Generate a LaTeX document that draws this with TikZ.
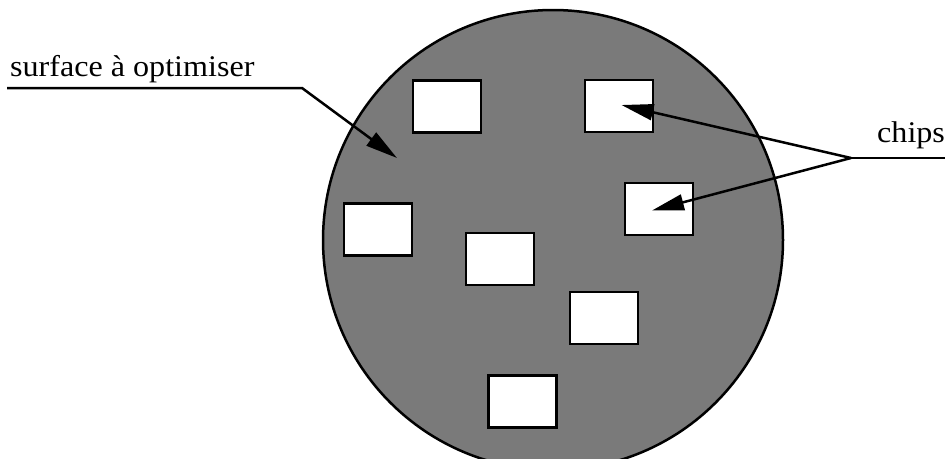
\documentclass[tikz,border=0pt]{standalone}
\usepackage{fontspec}
\setmainfont{Liberation Serif}
\usetikzlibrary{arrows.meta}
\begin{document}
\begin{tikzpicture}[x=1pt,y=-1pt,
  chipbox/.style={draw=black,line width=2.5pt,fill=white,minimum width=68pt,minimum height=52pt,inner sep=0pt},
  leader/.style={line width=2.5pt,-{Triangle[length=32pt,width=16pt]}},
  lbl/.style={font=\fontsize{30}{34}\selectfont,inner sep=0pt,anchor=base west}]
\useasboundingbox (0,0) rectangle (945,458);
\fill[white] (0,0) rectangle (945,458);
\begin{scope}
\clip (0,0) rectangle (945,458);
\draw[line width=2.5pt,fill=black!52] (553,240) circle[radius=230];
\end{scope}
\node[chipbox] (c1) at (447,106.5) {};
\node[chipbox] (c2) at (619,106) {};
\node[chipbox] (c3) at (659,209) {};
\node[chipbox] (c4) at (378,229.5) {};
\node[chipbox] (c5) at (500,259) {};
\node[chipbox] (c6) at (604,318) {};
\node[chipbox] (c7) at (522.5,401.5) {};
\node[lbl] (surf) at (10,76) {\scalebox{1.07}[1]{surface à optimiser}};
\node[lbl] (chips) at (877,142) {\scalebox{1.07}[1]{chips}};
\coordinate (sstart) at (7,88);
\coordinate (sbend) at (302,88);
\coordinate (stip) at (397,158);
\coordinate (cend) at (945,158);
\coordinate (cfork) at (851,158);
\coordinate (t2) at (621.5,105);
\coordinate (t3) at (652,210.5);
\draw[leader] (sstart) -- (sbend) -- (stip);
\draw[line width=2.5pt] (cend) -- (cfork);
\draw[leader] (cfork) -- (t2);
\draw[leader] (cfork) -- (t3);
\end{tikzpicture}
\end{document}
